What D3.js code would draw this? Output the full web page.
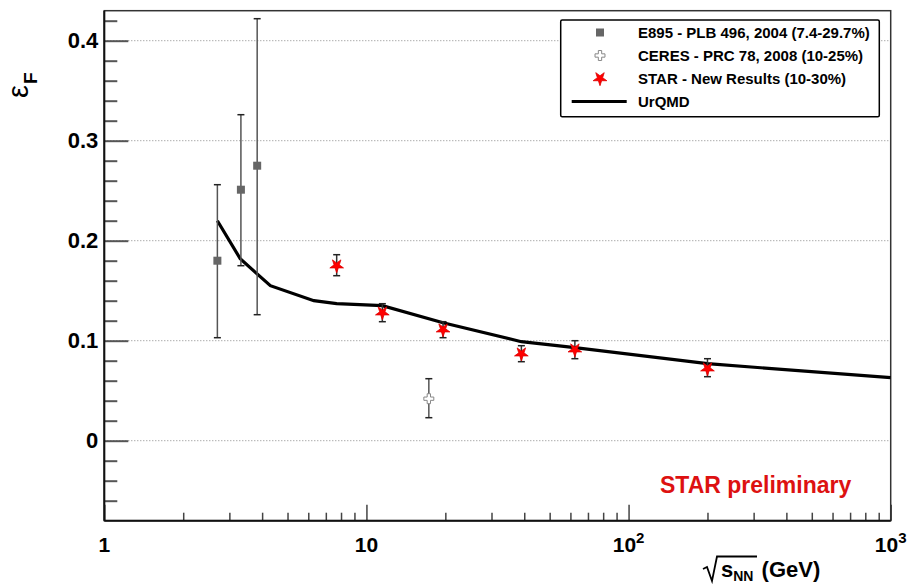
<!DOCTYPE html>
<html>
<head>
<meta charset="utf-8">
<script src="https://cdn.jsdelivr.net/npm/d3@7"></script>
<style>
  body { margin: 0; background: white; }
  text { font-family: "Liberation Sans", Arial, sans-serif; font-weight: bold; }
</style>
</head>
<body>
<div id="chart"></div>
<script>
// E895 points (sqrt sNN in GeV)
var e895X = [2.70, 3.32, 3.83];
var e895Y = [0.180, 0.251, 0.275];
var e895Lo = [0.103, 0.175, 0.126];
var e895Hi = [0.256, 0.326, 0.422];

// CERES point
var ceresX = [17.3];
var ceresY = [0.042];
var ceresLo = [0.023];
var ceresHi = [0.062];

// STAR new results
var starX = [7.7, 11.5, 19.6, 39, 62.4, 200];
var starY = [0.175, 0.128, 0.111, 0.087, 0.091, 0.072];
var starLo = [0.165, 0.119, 0.103, 0.079, 0.082, 0.064];
var starHi = [0.186, 0.137, 0.119, 0.095, 0.100, 0.082];

// UrQMD curve
var urqmdX = [2.7, 3.3, 4.3, 6.3, 7.7, 11.5, 19.6, 39, 62.4, 200, 1000];
var urqmdY = [0.220, 0.182, 0.155, 0.140, 0.137, 0.135, 0.118, 0.099, 0.093, 0.077, 0.063];

var legendLabels = ["E895 - PLB 496, 2004 (7.4-29.7%)", "CERES - PRC 78, 2008 (10-25%)",
    "STAR - New Results (10-30%)", "UrQMD"];
var yMajor = [0, 0.1, 0.2, 0.3, 0.4];
var xMajor = [1, 10, 100, 1000];

var svgWidth = 907;
var svgHeight = 585;
var margin = { top: 10.7, right: 16.3, bottom: 64.3, left: 104.3 };
var width = svgWidth - margin.left - margin.right;
var height = svgHeight - margin.top - margin.bottom;

var svg = d3.select("#chart").append("svg")
    .attr("width", svgWidth)
    .attr("height", svgHeight);

var chartGroup = svg.append("g")
    .attr("transform", `translate(${margin.left}, ${margin.top})`);

var x = d3.scaleLog().domain([1, 1000]).range([0, width]);
var y = d3.scaleLinear().domain([-0.08, 0.43]).range([height, 0]);

// dotted grid at major y values
chartGroup.selectAll(".grid").data(yMajor).enter().append("line")
    .attr("x1", 0).attr("x2", width)
    .attr("y1", d => y(d)).attr("y2", d => y(d))
    .attr("stroke", "#888").attr("stroke-width", 1)
    .attr("stroke-dasharray", "1,2");

// y minor ticks
var yMinor = d3.range(-0.06, 0.43, 0.02).filter(v => Math.abs(Math.round(v * 10) - v * 10) > 0.01);
chartGroup.append("g")
    .call(d3.axisLeft(y).tickValues(yMinor).tickSize(-13).tickFormat(""))
    .call(g => g.select(".domain").remove())
    .selectAll("line").attr("stroke", "#555").attr("stroke-width", 2);

// y major ticks with labels
var yAxis = chartGroup.append("g")
    .call(d3.axisLeft(y).tickValues(yMajor).tickSize(-24).tickPadding(6).tickFormat(d3.format("")))
    .call(g => g.select(".domain").remove());
yAxis.selectAll("line").attr("stroke", "#555").attr("stroke-width", 2);
yAxis.selectAll("text").attr("font-size", 22).attr("fill", "#000")
    .style("font-family", "'Liberation Sans', Arial, sans-serif").style("font-weight", "bold");

// x minor ticks
var xMinor = [];
[1, 10, 100].forEach(dec => { for (var k = 2; k <= 9; k++) xMinor.push(dec * k); });
chartGroup.append("g")
    .attr("transform", `translate(0, ${height})`)
    .call(d3.axisBottom(x).tickValues(xMinor).tickSize(-8).tickFormat(""))
    .call(g => g.select(".domain").remove())
    .selectAll("line").attr("stroke", "#444").attr("stroke-width", 1.5);

chartGroup.append("g")
    .attr("transform", `translate(0, ${height})`)
    .call(d3.axisBottom(x).tickValues(xMajor).tickSize(-16).tickFormat(""))
    .call(g => g.select(".domain").remove())
    .selectAll("line").attr("stroke", "#444").attr("stroke-width", 1.5);

// x tick labels with superscripts
xMajor.forEach(v => {
    var t = chartGroup.append("text")
        .attr("x", x(v)).attr("y", height + 31)
        .attr("font-size", 21).attr("text-anchor", "middle");
    if (v < 100) {
        t.text(v);
    } else {
        t.append("tspan").text("10");
        t.append("tspan").attr("dy", -9).attr("font-size", 15).text(Math.round(Math.log10(v)));
    }
});

// frame
chartGroup.append("rect")
    .attr("width", width).attr("height", height)
    .attr("fill", "none").attr("stroke", "#333").attr("stroke-width", 1.5);
chartGroup.append("line").attr("x1", 0).attr("x2", 0).attr("y1", 0).attr("y2", height)
    .attr("stroke", "#111").attr("stroke-width", 2);
chartGroup.append("line").attr("x1", 0).attr("x2", width).attr("y1", height).attr("y2", height)
    .attr("stroke", "#111").attr("stroke-width", 2);

// UrQMD line
var urqmd = urqmdX.map((v, i) => [v, urqmdY[i]]);
chartGroup.append("path")
    .datum(urqmd)
    .attr("fill", "none").attr("stroke", "#000").attr("stroke-width", 3.2)
    .attr("d", d3.line().x(d => x(d[0])).y(d => y(d[1])));

// error bars
function errorBars(xs, lo, hi, color) {
    var g = chartGroup.append("g");
    xs.forEach((v, i) => {
        g.append("line").attr("x1", x(v)).attr("x2", x(v))
            .attr("y1", y(lo[i])).attr("y2", y(hi[i]))
            .attr("stroke", color).attr("stroke-width", 1.5);
        [lo[i], hi[i]].forEach(e => {
            g.append("line").attr("x1", x(v) - 3.5).attr("x2", x(v) + 3.5)
                .attr("y1", y(e)).attr("y2", y(e))
                .attr("stroke", "#222").attr("stroke-width", 1.5);
        });
    });
}
errorBars(e895X, e895Lo, e895Hi, "#555");
errorBars(ceresX, ceresLo, ceresHi, "#555");
errorBars(starX, starLo, starHi, "#333");

// E895 squares
chartGroup.selectAll(".e895").data(e895X).enter().append("rect")
    .attr("x", d => x(d) - 4).attr("y", (d, i) => y(e895Y[i]) - 4)
    .attr("width", 8).attr("height", 8).attr("fill", "#666");

// CERES open cross
chartGroup.selectAll(".ceres").data(ceresX).enter().append("path")
    .attr("transform", (d, i) => `translate(${x(d)}, ${y(ceresY[i])})`)
    .attr("d", d3.symbol().type(d3.symbolCross).size(55))
    .attr("fill", "#fff").attr("stroke", "#888").attr("stroke-width", 1);

// STAR stars
chartGroup.selectAll(".star").data(starX).enter().append("path")
    .attr("transform", (d, i) => `translate(${x(d)}, ${y(starY[i])}) rotate(180)`)
    .attr("d", d3.symbol().type(d3.symbolStar).size(58))
    .attr("fill", "#ff0000").attr("stroke", "#d00").attr("stroke-width", 0.8);

// legend
var legend = svg.append("g");
legend.append("rect")
    .attr("x", 560.7).attr("y", 20).attr("width", 318.6).attr("height", 96.7)
    .attr("rx", 1.5).attr("fill", "#fff").attr("stroke", "#000").attr("stroke-width", 1.5);
legendLabels.forEach((lab, i) => {
    var ly = 32.5 + i * 23;
    legend.append("text").attr("x", 638).attr("y", ly + 5.3)
        .attr("font-size", 15).attr("fill", "#000").text(lab);
});
legend.append("rect").attr("x", 596).attr("y", 32.5 - 4).attr("width", 8).attr("height", 8).attr("fill", "#666");
legend.append("path").attr("transform", "translate(600, 55.5)")
    .attr("d", d3.symbol().type(d3.symbolCross).size(55))
    .attr("fill", "#fff").attr("stroke", "#888").attr("stroke-width", 1);
legend.append("path").attr("transform", "translate(600, 78.5) rotate(180)")
    .attr("d", d3.symbol().type(d3.symbolStar).size(58))
    .attr("fill", "#ff0000").attr("stroke", "#d00").attr("stroke-width", 0.8);
legend.append("line").attr("x1", 571.7).attr("x2", 626.7).attr("y1", 101.5).attr("y2", 101.5)
    .attr("stroke", "#000").attr("stroke-width", 3);

// STAR preliminary
svg.append("text").attr("x", 660).attr("y", 493)
    .attr("font-size", 23).attr("fill", "#dd1111").text("STAR preliminary");

// y title
var yTitle = svg.append("text")
    .attr("transform", "translate(28, 98) rotate(-90)")
    .attr("font-size", 29).attr("fill", "#000");
yTitle.append("tspan").style("font-weight", "normal").text("ε");
yTitle.append("tspan").attr("dy", 9).attr("dx", 1).attr("font-size", 19).text("F");

// x title with radical
svg.append("path")
    .attr("d", "M703,569 L707,567 L712,581 L717,556.5 L757,556.5")
    .attr("fill", "none").attr("stroke", "#000").attr("stroke-width", 1.8);
var xTitle = svg.append("text").attr("x", 721).attr("y", 576.5)
    .attr("font-size", 22).attr("fill", "#000");
xTitle.append("tspan").text("s");
xTitle.append("tspan").attr("dy", 4).attr("font-size", 14).text("NN");
xTitle.append("tspan").attr("dy", -4).attr("dx", 2).text(" (GeV)");
</script>
</body>
</html>
